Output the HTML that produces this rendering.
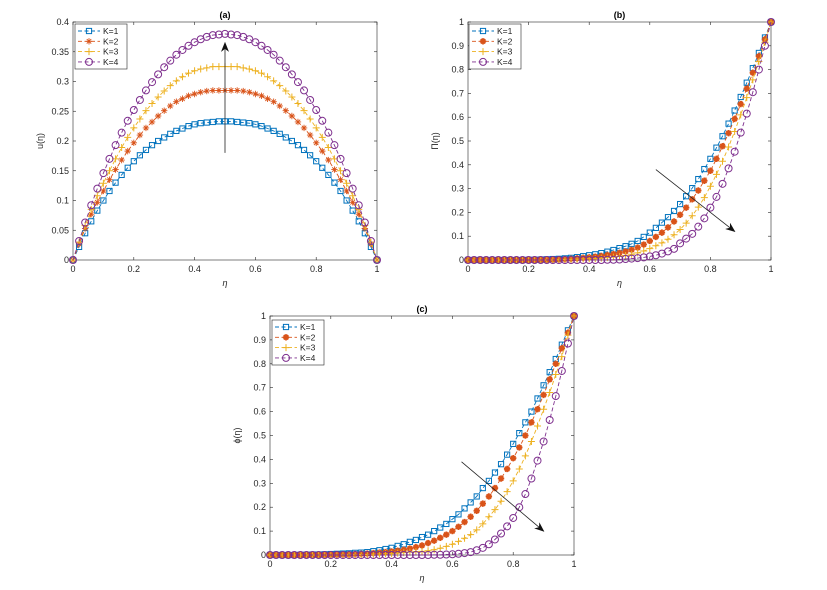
<!DOCTYPE html>
<html><head><meta charset="utf-8"><style>
body{margin:0;background:#fff;}
svg{display:block;font-family:"Liberation Sans",sans-serif;}
</style></head><body>
<svg id="fig" width="827" height="590" viewBox="0 0 827 590"></svg>
<script>
const etaValues = Array.from({length:51},(_,i)=>+(i*0.02).toFixed(2));
const seriesLabels = ["K=1","K=2","K=3","K=4"];
const xTickLabels = ["0","0.2","0.4","0.6","0.8","1"];
const aTicks = ["0","0.05","0.1","0.15","0.2","0.25","0.3","0.35","0.4"];
const unitTicks = ["0","0.1","0.2","0.3","0.4","0.5","0.6","0.7","0.8","0.9","1"];

const uK1 = [0,0.022,0.045,0.065,0.083,0.1,0.116,0.13,0.143,0.155,0.166,0.176,0.185,0.193,0.2,0.206,0.212,0.217,0.221,0.225,0.228,0.23,0.231,0.232,0.233,0.233,0.233,0.232,0.231,0.23,0.228,0.225,0.221,0.217,0.212,0.206,0.2,0.193,0.185,0.176,0.166,0.155,0.143,0.13,0.116,0.1,0.083,0.065,0.045,0.022,0];
const uK2 = [0,0.027,0.053,0.077,0.097,0.116,0.135,0.152,0.168,0.183,0.197,0.21,0.222,0.232,0.242,0.251,0.259,0.266,0.271,0.276,0.279,0.282,0.284,0.285,0.285,0.285,0.285,0.285,0.284,0.282,0.279,0.276,0.271,0.266,0.259,0.251,0.242,0.232,0.222,0.21,0.197,0.183,0.168,0.152,0.135,0.116,0.097,0.077,0.053,0.027,0];
const uK3 = [0,0.03,0.058,0.085,0.108,0.129,0.15,0.17,0.189,0.206,0.222,0.237,0.251,0.263,0.274,0.284,0.293,0.301,0.308,0.314,0.318,0.321,0.323,0.325,0.325,0.325,0.325,0.325,0.323,0.321,0.318,0.314,0.308,0.301,0.293,0.284,0.274,0.263,0.251,0.237,0.222,0.206,0.189,0.17,0.15,0.129,0.108,0.085,0.058,0.03,0];
const uK4 = [0,0.032,0.063,0.092,0.12,0.146,0.17,0.193,0.214,0.234,0.252,0.269,0.285,0.299,0.312,0.324,0.335,0.345,0.353,0.36,0.366,0.371,0.375,0.378,0.379,0.38,0.379,0.378,0.375,0.371,0.366,0.36,0.353,0.345,0.335,0.324,0.312,0.299,0.285,0.269,0.252,0.234,0.214,0.193,0.17,0.146,0.12,0.092,0.063,0.032,0];

const tK1 = [0,0,0,0,0,0,0,0,0,0,0.001,0.001,0.002,0.003,0.004,0.005,0.007,0.009,0.012,0.016,0.02,0.024,0.029,0.035,0.042,0.05,0.058,0.068,0.08,0.097,0.115,0.135,0.157,0.18,0.206,0.235,0.268,0.302,0.34,0.382,0.425,0.472,0.52,0.573,0.628,0.685,0.745,0.806,0.87,0.935,1];
const tK2 = [0,0,0,0,0,0,0,0,0,0,0,0,0.001,0.001,0.002,0.003,0.004,0.005,0.007,0.009,0.011,0.014,0.017,0.021,0.025,0.03,0.036,0.043,0.052,0.065,0.08,0.097,0.115,0.137,0.162,0.19,0.22,0.255,0.292,0.333,0.375,0.425,0.478,0.533,0.593,0.655,0.72,0.787,0.856,0.927,1];
const tK3 = [0,0,0,0,0,0,0,0,0,0,0,0,0,0,0,0.001,0.002,0.002,0.003,0.004,0.005,0.006,0.008,0.01,0.012,0.015,0.019,0.024,0.03,0.038,0.048,0.06,0.072,0.087,0.106,0.128,0.155,0.186,0.222,0.262,0.31,0.36,0.415,0.475,0.54,0.61,0.682,0.757,0.834,0.915,1];
const tK4 = [0,0,0,0,0,0,0,0,0,0,0,0,0,0,0,0,0,0,0,0,0,0,0,0.001,0.001,0.002,0.004,0.006,0.008,0.011,0.015,0.02,0.027,0.036,0.047,0.07,0.09,0.11,0.14,0.175,0.22,0.265,0.32,0.385,0.455,0.535,0.615,0.705,0.8,0.9,1];

const pK1 = [0,0,0,0,0,0.001,0.001,0.002,0.002,0.003,0.004,0.005,0.006,0.007,0.009,0.01,0.012,0.016,0.02,0.025,0.03,0.038,0.045,0.055,0.063,0.075,0.085,0.1,0.115,0.13,0.15,0.17,0.195,0.22,0.245,0.28,0.31,0.345,0.38,0.42,0.465,0.51,0.555,0.6,0.655,0.71,0.765,0.82,0.88,0.94,1];
const pK2 = [0,0,0,0,0,0,0,0.001,0.001,0.001,0.002,0.002,0.003,0.003,0.004,0.005,0.006,0.008,0.01,0.012,0.015,0.018,0.022,0.027,0.033,0.04,0.05,0.06,0.072,0.085,0.1,0.118,0.138,0.16,0.185,0.215,0.245,0.28,0.32,0.36,0.405,0.45,0.5,0.555,0.61,0.67,0.735,0.8,0.865,0.93,1];
const pK3 = [0,0,0,0,0,0,0,0,0,0,0,0,0.001,0.001,0.001,0.002,0.002,0.003,0.004,0.005,0.006,0.008,0.01,0.012,0.014,0.015,0.018,0.022,0.028,0.036,0.045,0.057,0.07,0.085,0.105,0.13,0.16,0.19,0.225,0.265,0.31,0.36,0.415,0.475,0.54,0.61,0.68,0.755,0.83,0.92,1];
const pK4 = [0,0,0,0,0,0,0,0,0,0,0,0,0,0,0,0,0,0,0,0,0,0,0,0,0,0,0,0.001,0.001,0.002,0.003,0.005,0.008,0.012,0.02,0.03,0.045,0.065,0.09,0.12,0.155,0.2,0.255,0.32,0.395,0.475,0.565,0.665,0.77,0.885,1];

const NS="http://www.w3.org/2000/svg";
const svg=document.getElementById('fig');
const colors=["#0072BD","#D95319","#EDB120","#7E2F8E"];
const markers=["square","star","plus","circle"];
function el(tag,attrs,parent){const e=document.createElementNS(NS,tag);for(const k in attrs)e.setAttribute(k,attrs[k]);(parent||svg).appendChild(e);return e;}

function marker(g,type,x,y,c,filledStar){
  if(type==="square"){const m=el('rect',{x:x-2.6,y:y-2.6,width:5.2,height:5.2,fill:'none',stroke:c,'stroke-width':1},g);}
  else if(type==="circle"){const m=el('circle',{cx:x,cy:y,r:3.5,fill:'none',stroke:c,'stroke-width':1},g);}
  else if(type==="plus"){const m=el('path',{d:`M${x-3.5},${y}H${x+3.5}M${x},${y-3.5}V${y+3.5}`,stroke:c,'stroke-width':1,fill:'none'},g);}
  else{const r=3.2;const m=el('path',{d:`M${x-r},${y}H${x+r}M${x},${y-r}V${y+r}M${x-r*0.7},${y-r*0.7}L${x+r*0.7},${y+r*0.7}M${x-r*0.7},${y+r*0.7}L${x+r*0.7},${y-r*0.7}`,stroke:c,'stroke-width':filledStar?1.8:0.9,fill:'none'},g);}
}

function panel(cfg){
  const {name,x0,x1,y0,y1,ymax,yTicks,series,title,ylabel,legend,arrow,filledStar}=cfg;
  const g=el('g',{});
  const sx=v=>x0+(x1-x0)*v, sy=v=>y0-(y0-y1)*v/ymax;
  const bg=el('rect',{x:x0,y:y1,width:x1-x0,height:y0-y1,fill:'#fff',stroke:'#262626','stroke-width':0.6},g);
  
  xTickLabels.forEach(t=>{const v=+t,x=sx(v);
    el('line',{x1:x,x2:x,y1:y0,y2:y0-3,stroke:'#262626','stroke-width':0.6},g);
    el('line',{x1:x,x2:x,y1:y1,y2:y1+3,stroke:'#262626','stroke-width':0.6},g);
    const tx=el('text',{x:x,y:y0+12,'font-size':9,fill:'#262626','text-anchor':'middle'},g);tx.textContent=t;
    });
  yTicks.forEach(t=>{const v=+t,y=sy(v);
    el('line',{x1:x0,x2:x0+3,y1:y,y2:y,stroke:'#262626','stroke-width':0.6},g);
    el('line',{x1:x1,x2:x1-3,y1:y,y2:y,stroke:'#262626','stroke-width':0.6},g);
    const tx=el('text',{x:x0-4,y:y+3,'font-size':9,fill:'#262626','text-anchor':'end'},g);tx.textContent=t;
    });
  series.forEach((s,k)=>{const sg=el('g',{},g);
    const pts=etaValues.map((e,i)=>sx(e).toFixed(1)+','+sy(s[i]).toFixed(1)).join(' ');
    const pl=el('polyline',{points:pts,fill:'none',stroke:colors[k],'stroke-width':0.9,'stroke-dasharray':'4,2.5'},sg);
    
    etaValues.forEach((e,i)=>marker(sg,markers[k],sx(e),sy(s[i]),colors[k],filledStar));});
  const ax=el('line',{x1:sx(arrow[0]),y1:sy(arrow[1]),x2:sx(arrow[2]),y2:sy(arrow[3]),stroke:'#222','stroke-width':0.8,'marker-end':'url(#ah)'},g);
  
  const lg=el('g',{},g);
  el('rect',{x:legend[0],y:legend[1],width:52,height:45,fill:'#fff',stroke:'#262626','stroke-width':0.6},lg);
  seriesLabels.forEach((l,k)=>{const yy=legend[1]+7+k*10.3;
    el('line',{x1:legend[0]+3,x2:legend[0]+25,y1:yy,y2:yy,stroke:colors[k],'stroke-width':0.9,'stroke-dasharray':'4,2.5'},lg);
    marker(lg,markers[k],legend[0]+14,yy,colors[k],filledStar);
    const tx=el('text',{x:legend[0]+28,y:yy+3,'font-size':8.5,fill:'#222'},lg);tx.textContent=l;
    });
  if(title){const t=el('text',{x:(x0+x1)/2,y:y1-4,'font-size':9,'font-weight':'bold','text-anchor':'middle',fill:'#000'},g);t.textContent=title;}
  const xl=el('text',{x:(x0+x1)/2,y:y0+26,'font-size':9,'font-style':'italic','text-anchor':'middle',fill:'#262626'},g);xl.textContent='η';
  const yx=x0-30,yy=(y0+y1)/2;
  const yl=el('text',{x:yx,y:yy,'font-size':9,'text-anchor':'middle',fill:'#262626',transform:`rotate(-90 ${yx} ${yy})`},g);yl.textContent=ylabel;
}
const defs=el('defs',{});
const mk=el('marker',{id:'ah',markerWidth:10,markerHeight:8,refX:9,refY:4,orient:'auto',markerUnits:'userSpaceOnUse'},defs);
el('path',{d:'M0,0L10,4L0,8L3,4Z',fill:'#111'},mk);

panel({name:'panel-a',x0:73,x1:377,y0:260,y1:22,ymax:0.4,yTicks:aTicks,series:[uK1,uK2,uK3,uK4],title:'(a)',ylabel:'u(η)',legend:[75,24],arrow:[0.5,0.18,0.5,0.365],filledStar:false});
panel({name:'panel-b',x0:468,x1:771,y0:260,y1:22,ymax:1,yTicks:unitTicks,series:[tK1,tK2,tK3,tK4],title:'(b)',ylabel:'Π(η)',legend:[469,24],arrow:[0.62,0.38,0.88,0.12],filledStar:true});
panel({name:'panel-c',x0:270,x1:574,y0:555,y1:316,ymax:1,yTicks:unitTicks,series:[pK1,pK2,pK3,pK4],title:'(c)',ylabel:'ϕ(η)',legend:[272,320],arrow:[0.63,0.39,0.9,0.1],filledStar:true});
</script>
</body></html>
